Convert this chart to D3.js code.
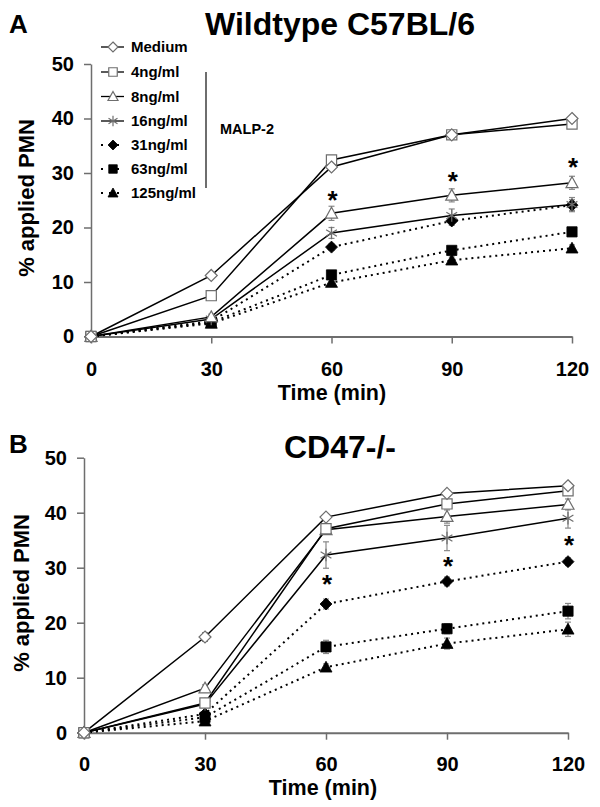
<!DOCTYPE html>
<html><head><meta charset="utf-8">
<script src="https://cdn.jsdelivr.net/npm/d3@7"></script>
<style>
body{margin:0;background:#fff;}
text{font-family:"Liberation Sans",Arial,sans-serif;font-weight:bold;}
</style></head>
<body><svg id="c" width="600" height="807"></svg>
<script>
const times = [0, 30, 60, 90, 120];
const xTicks = [0, 30, 60, 90, 120];
const yTicks = [0, 10, 20, 30, 40, 50];
const seriesNames = ["Medium", "4ng/ml", "8ng/ml", "16ng/ml", "31ng/ml", "63ng/ml", "125ng/ml"];
const seriesSymbols = ["diamondOpen", "squareOpen", "triangleOpen", "star", "diamond", "square", "triangle"];
const seriesDotted = [false, false, false, false, true, true, true];

// Panel A: Wildtype C57BL/6
const wtMedium = [0, 11.2, 31.1, 37.0, 40.0];
const wt4 = [0, 7.5, 32.4, 37.0, 39.0];
const wt8 = [0, 3.6, 22.6, 25.9, 28.2];
const wt16 = [0, 3.2, 19.0, 22.2, 24.2];
const wt31 = [0, 2.8, 16.4, 21.2, 24.1];
const wt63 = [0, 2.6, 11.3, 15.8, 19.2];
const wt125 = [0, 2.4, 9.9, 14.0, 16.2];
const wtErr = [
  [0, 0.4, 0.5, 0.5, 0.5],
  [0, 0.8, 0.6, 0.5, 0.6],
  [0, 0.5, 1.3, 1.2, 1.2],
  [0, 0.4, 1.0, 1.2, 1.3],
  [0, 0.3, 0.6, 0.8, 1.0],
  [0, 0.3, 0.7, 0.6, 0.7],
  [0, 0.3, 0.6, 0.6, 0.6]
];
const wtStars = [60, 90, 120];
const wtStarValues = [26.0, 29.5, 32.0];

// Panel B: CD47-/-
const koMedium = [0, 17.4, 39.2, 43.5, 44.9];
const ko4 = [0, 5.4, 37.1, 41.6, 44.0];
const ko8 = [0, 8.1, 36.9, 39.3, 41.5];
const ko16 = [0, 5.2, 32.3, 35.4, 39.0];
const ko31 = [0, 3.4, 23.4, 27.5, 31.1];
const ko63 = [0, 2.8, 15.6, 18.9, 22.1];
const ko125 = [0, 2.1, 11.9, 16.2, 18.8];
const koErr = [
  [0, 0.8, 0.5, 0.5, 0.5],
  [0, 0.6, 0.7, 0.8, 0.7],
  [0, 0.6, 0.8, 1.2, 1.0],
  [0, 0.6, 2.4, 2.3, 1.8],
  [0, 0.5, 0.9, 0.8, 0.7],
  [0, 0.4, 1.2, 0.9, 1.4],
  [0, 0.4, 0.6, 1.0, 1.3]
];
const koStars = [60, 90, 120];
const koStarValues = [28.0, 31.2, 35.0];

const svg = d3.select("#c");
const gray = "#6e6e6e";

function symbolPath(type, size) {
  const s = size;
  if (type.startsWith("diamond")) return `M0,${-s}L${s},0L0,${s}L${-s},0Z`;
  if (type.startsWith("square")) { const h = s * 0.85; return `M${-h},${-h}H${h}V${h}H${-h}Z`; }
  if (type.startsWith("triangle")) return `M0,${-s}L${s},${s*0.8}L${-s},${s*0.8}Z`;
  if (type === "star") { const h = s * 0.9; return `M${-h},${-h*0.6}L${h},${h*0.6}M${-h},${h*0.6}L${h},${-h*0.6}M0,${-s*1.05}V${s*1.05}`; }
}
function drawMarker(g, type, x, y, size) {
  const open = type.endsWith("Open") || type === "star";
  g.append("path").attr("transform", `translate(${x},${y})`)
    .attr("d", symbolPath(type, size))
    .attr("fill", type === "star" ? "none" : (open ? "#fff" : "#000"))
    .attr("stroke", open ? gray : "#000")
    .attr("stroke-width", open ? 1.2 : 0.8);
}

function panel(opts) {
  const {x0, x1, y0, y1, series, errs, stars, starVals, title, titleX, titleY, letter, letterY, yTitleX, yTitleY, xLabelY, xTitleX, xTitleY} = opts;
  const x = d3.scaleLinear().domain([0, 120]).range([x0, x1]);
  const y = d3.scaleLinear().domain([0, 50]).range([y0, y1]);
  const g = svg.append("g");

  const yAx = g.append("g").attr("transform", `translate(${x0},0)`)
    .call(d3.axisLeft(y).tickValues(yTicks).tickSize(7).tickPadding(10).tickSizeOuter(0));
  yAx.select(".domain").attr("stroke", gray).attr("stroke-width", 1.5);
  yAx.selectAll(".tick line").attr("stroke", gray).attr("stroke-width", 1.5);
  yAx.selectAll("text").attr("font-size", 20).attr("fill", "#000").attr("font-weight", "bold")
    .attr("font-family", "Liberation Sans, Arial, sans-serif");

  const xAx = g.append("g").attr("transform", `translate(0,${y0})`)
    .call(d3.axisBottom(x).tickValues(xTicks).tickSize(7).tickSizeOuter(0));
  xAx.select(".domain").attr("stroke", gray).attr("stroke-width", 2);
  xAx.selectAll(".tick line").attr("stroke", gray).attr("stroke-width", 1.5);
  xAx.selectAll(".tick text").attr("font-size", 20).attr("fill", "#000").attr("font-weight", "bold")
    .attr("font-family", "Liberation Sans, Arial, sans-serif")
    .attr("y", xLabelY - y0).attr("dy", "0.35em");

  g.append("text").attr("x", xTitleX).attr("y", xTitleY).attr("text-anchor", "middle")
    .attr("font-size", 21.5).text("Time (min)");
  g.append("text").attr("transform", `translate(${yTitleX},${yTitleY}) rotate(-90)`).attr("text-anchor", "middle")
    .attr("dy", "0.35em").attr("font-size", 22).text("% applied PMN");

  g.append("text").attr("x", titleX).attr("y", titleY).attr("text-anchor", "middle")
    .attr("font-size", 32).text(title);
  g.append("text").attr("x", 9).attr("y", letterY).attr("font-size", 26).text(letter);

  const line = d3.line().x((d, i) => x(times[i])).y(d => y(d));
  series.forEach((vals, k) => {
    g.append("path").datum(vals).attr("d", line).attr("fill", "none")
      .attr("stroke", "#000").attr("stroke-width", seriesDotted[k] ? 2 : 1.5)
      .attr("stroke-dasharray", seriesDotted[k] ? "2,4" : null);
  });
  series.forEach((vals, k) => {
    vals.forEach((v, i) => {
      const e = errs[k][i];
      if (!e) return;
      const cx = x(times[i]);
      g.append("line").attr("x1", cx).attr("x2", cx).attr("y1", y(v - e)).attr("y2", y(v + e))
        .attr("stroke", "#888").attr("stroke-width", 1.2);
      [v - e, v + e].forEach(w => g.append("line").attr("x1", cx - 3).attr("x2", cx + 3)
        .attr("y1", y(w)).attr("y2", y(w)).attr("stroke", "#888").attr("stroke-width", 1.2));
    });
  });
  for (let k = series.length - 1; k >= 0; k--) {
    series[k].forEach((v, i) => {
      drawMarker(g, seriesSymbols[k], x(times[i]), y(v), 6);
    });
  }
  stars.forEach((t, i) => {
    g.append("text").attr("x", x(t) + 1).attr("y", y(starVals[i]) + 14).attr("text-anchor", "middle")
      .attr("font-size", 26).text("*");
  });
}

panel({
  x0: 91, x1: 572, y0: 336.5, y1: 64,
  series: [wtMedium, wt4, wt8, wt16, wt31, wt63, wt125], errs: wtErr,
  stars: wtStars, starVals: wtStarValues,
  title: "Wildtype C57BL/6", titleX: 340, titleY: 35,
  letter: "A", letterY: 33, yTitleX: 26, yTitleY: 198, xLabelY: 369, xTitleX: 332, xTitleY: 399.5
});
panel({
  x0: 84, x1: 568, y0: 732.7, y1: 457.7,
  series: [koMedium, ko4, ko8, ko16, ko31, ko63, ko125], errs: koErr,
  stars: koStars, starVals: koStarValues,
  title: "CD47-/-", titleX: 340, titleY: 458,
  letter: "B", letterY: 453, yTitleX: 21, yTitleY: 593, xLabelY: 764, xTitleX: 323, xTitleY: 795
});

// legend
const lg = svg.append("g");
const legendY = [47, 72, 96.5, 121, 145, 169, 193];
seriesNames.forEach((name, k) => {
  const cy = legendY[k];
  lg.append("line").attr("x1", 101).attr("x2", 124).attr("y1", cy).attr("y2", cy)
    .attr("stroke", "#000").attr("stroke-width", seriesDotted[k] ? 2 : 1.3)
    .attr("stroke-dasharray", seriesDotted[k] ? "2,6" : null);
  drawMarker(lg, seriesSymbols[k], 113, cy, 5);
  lg.append("text").attr("x", 131).attr("y", cy).attr("dy", "0.35em").attr("font-size", 15).text(name);
});
lg.append("line").attr("x1", 206).attr("x2", 206).attr("y1", 72).attr("y2", 188)
  .attr("stroke", gray).attr("stroke-width", 2);
lg.append("text").attr("x", 220).attr("y", 129).attr("dy", "0.35em").attr("font-size", 14.5).text("MALP-2");
</script></body></html>
